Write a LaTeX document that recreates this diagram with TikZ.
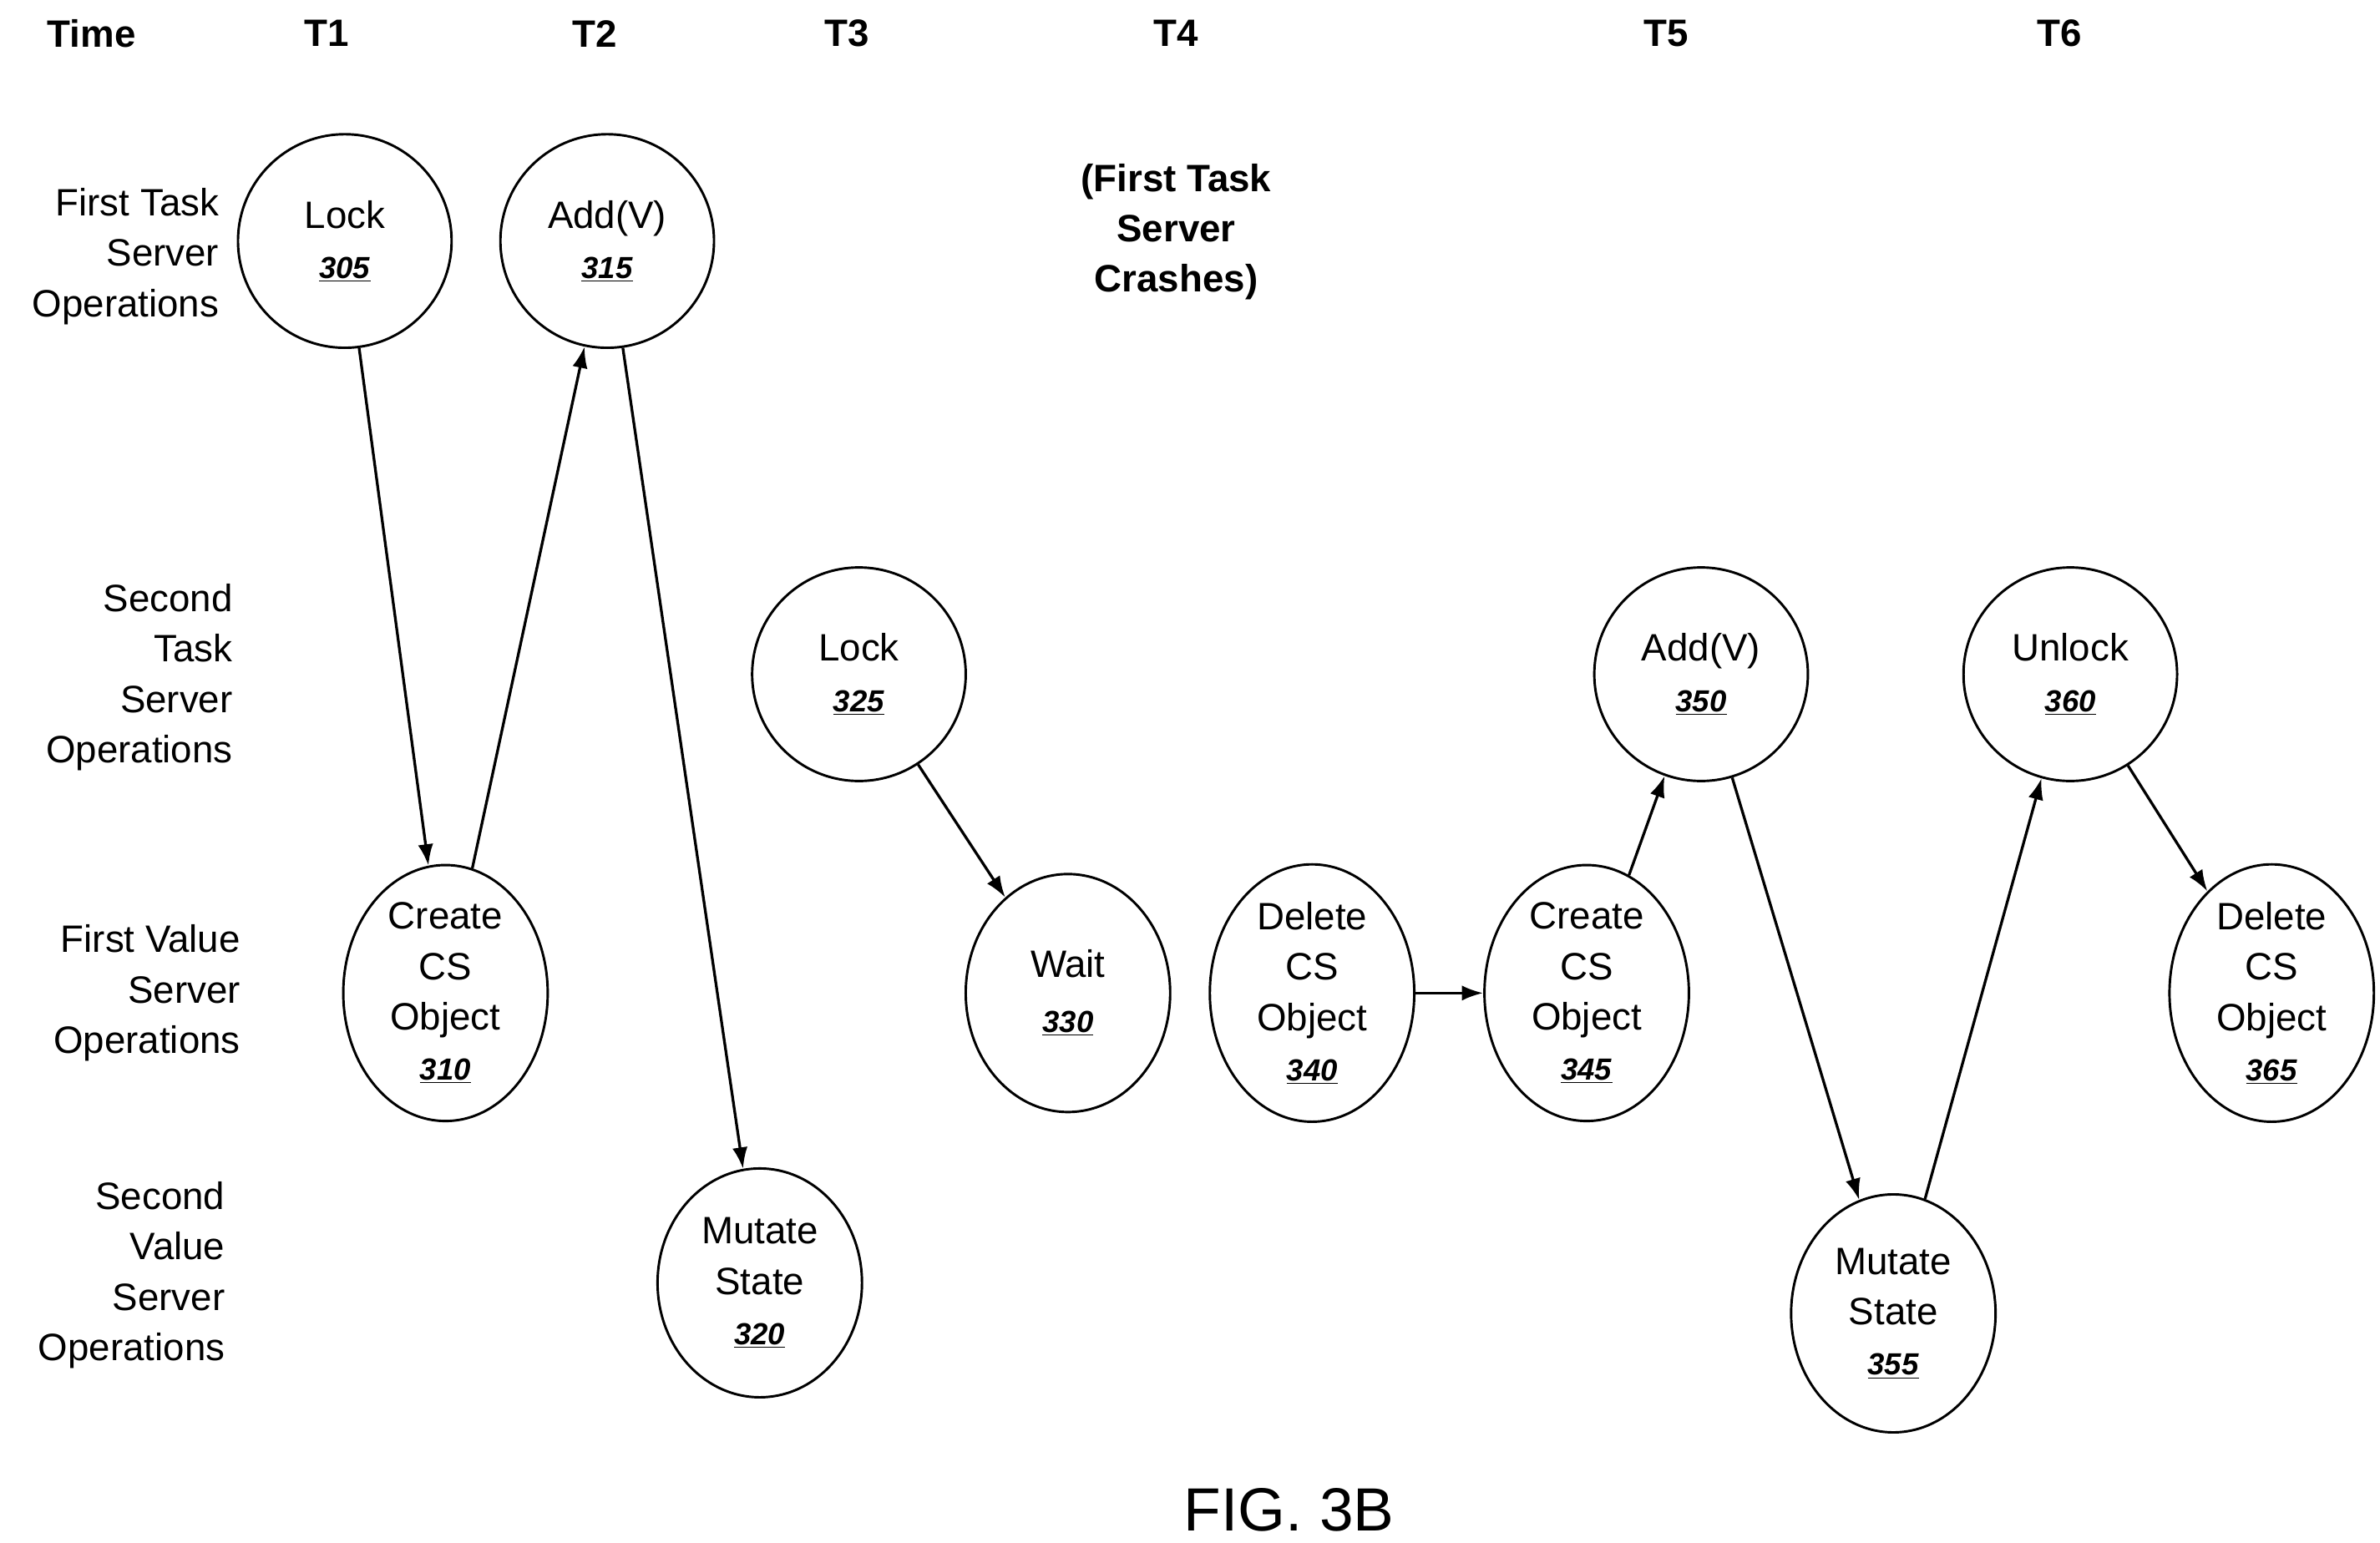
\documentclass[tikz,border=0pt]{standalone}
\usepackage{fontspec}
\setmainfont{Liberation Sans}
\usetikzlibrary{shapes.geometric,arrows.meta}
\newcommand{\refnum}[1]{{\fontsize{20}{24}\selectfont\underline{\textbf{\textit{#1}}}}}
\tikzset{
  op/.style={draw, line width=1.6pt, ellipse, inner sep=0pt, align=center,
    minimum width=140pt, minimum height=140pt, font=\fontsize{25}{33}\selectfont},
  tall/.style={op, minimum width=134pt, minimum height=156pt},
  row/.style={align=right, anchor=east, font=\fontsize{25}{33}\selectfont},
  hdr/.style={font=\fontsize{25}{30}\selectfont\bfseries},
  flow/.style={-{Latex[length=14pt,width=10pt]}, line width=1.8pt}
}
\begin{document}
\begin{tikzpicture}[x=1pt,y=-1pt]
  \useasboundingbox (0,0) rectangle (1560,1011);
  % time axis
  \node[hdr] (time) at (60,22) {Time};
  \node[hdr] (t1) at (214,22) {T1};
  \node[hdr] (t2) at (390,22) {T2};
  \node[hdr] (t3) at (555,22) {T3};
  \node[hdr] (t4) at (771,22) {T4};
  \node[hdr] (t5) at (1092,22) {T5};
  \node[hdr] (t6) at (1350,22) {T6};
  % rows
  \node[row] (r1) at (147,168) {First Task\\Server\\Operations};
  \node[row] (r2) at (156,444) {Second\\Task\\Server\\Operations};
  \node[row] (r3) at (161,651) {First Value\\Server\\Operations};
  \node[row] (r4) at (151,836) {Second\\Value\\Server\\Operations};
  \node[hdr, align=center, font=\fontsize{25}{33}\selectfont\bfseries] (crash) at (771,152) {(First Task\\Server\\Crashes)};
  % operations
  \node[op] (lock1) at (226,158) {Lock\\\refnum{305}};
  \node[op] (add1) at (398,158) {Add(V)\\\refnum{315}};
  \node[tall] (create1) at (292,651) {Create\\CS\\Object\\\refnum{310}};
  \node[tall, minimum height=150pt] (mutate1) at (498,841) {Mutate\\State\\\refnum{320}};
  \node[op] (lock2) at (563,442) {Lock\\\refnum{325}};
  \node[tall] (wait) at (700,651) {Wait\\[3pt]\refnum{330}};
  \node[tall] (delete1) at (860,651) {Delete\\CS\\Object\\\refnum{340}};
  \node[tall] (create2) at (1040,651) {Create\\CS\\Object\\\refnum{345}};
  \node[op] (add2) at (1115,442) {Add(V)\\\refnum{350}};
  \node[tall] (mutate2) at (1241,861) {Mutate\\State\\\refnum{355}};
  \node[op] (unlock) at (1357,442) {Unlock\\\refnum{360}};
  \node[tall] (delete2) at (1489,651) {Delete\\CS\\Object\\\refnum{365}};
  \draw[flow] (lock1) -- (create1);
  \draw[flow] (create1) -- (add1);
  \draw[flow] (add1) -- (mutate1);
  \draw[flow] (lock2) -- (wait);
  \draw[flow] (delete1) -- (create2);
  \draw[flow] (create2) -- (add2);
  \draw[flow] (add2) -- (mutate2);
  \draw[flow] (mutate2) -- (unlock);
  \draw[flow] (unlock) -- (delete2);
  \node[font=\fontsize{40}{44}\selectfont] (fig) at (845,990) {FIG. 3B};
\end{tikzpicture}
\end{document}
